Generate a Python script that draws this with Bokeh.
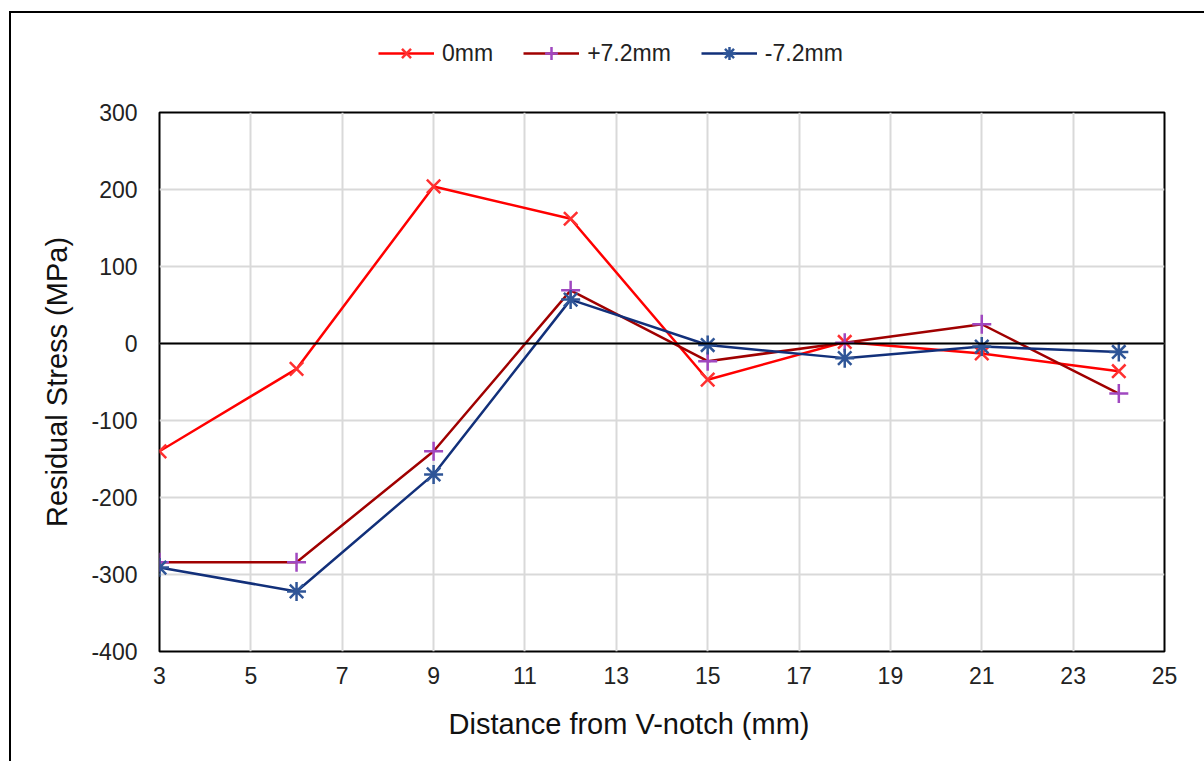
from bokeh.plotting import figure
from bokeh.layouts import column
from bokeh.models import Range1d, FixedTicker, Span, Legend, LegendItem, Title
from bokeh.embed import file_html
from bokeh.resources import INLINE

x_mm = [3, 6, 9, 12, 15, 18, 21, 24]
s_0mm = [-140, -33, 204, 162, -47, 2, -13, -36]
s_p72 = [-284, -284, -140, 69, -23, 1, 25, -65]
s_m72 = [-291, -322, -170, 57, -2, -19, -4, -11]
x_ticks = [3, 5, 7, 9, 11, 13, 15, 17, 19, 21, 23, 25]
y_ticks = [-400, -300, -200, -100, 0, 100, 200, 300]
y_tick_labels = ["-400", "-300", "-200", "-100", "0", "100", "200", "300"]
series_names = ["0mm", "+7.2mm", "-7.2mm"]

FONT = "Liberation Sans"
styles_ = [
    dict(line="#FF0000", marker="x", mcolor="#FF3030"),
    dict(line="#A00000", marker="cross", mcolor="#A048C0"),
    dict(line="#12307A", marker="asterisk", mcolor="#2F5597"),
]
series = [s_0mm, s_p72, s_m72]

# ---- main chart ----
p = figure(width=1194, height=669, output_backend="svg", toolbar_location=None,
           x_range=Range1d(3, 25), y_range=Range1d(-400, 300),
           min_border_left=148, min_border_right=41, min_border_top=19, min_border_bottom=111)
p.background_fill_color = "white"
p.border_fill_color = "white"
p.outline_line_color = "black"
p.outline_line_width = 2

p.xaxis.ticker = FixedTicker(ticks=x_ticks)
p.yaxis.ticker = FixedTicker(ticks=y_ticks)
p.yaxis.major_label_overrides = {t: s for t, s in zip(y_ticks, y_tick_labels)}
for ax in (p.xaxis, p.yaxis):
    ax.major_tick_line_color = None
    ax.minor_tick_line_color = None
    ax.axis_line_color = None
    ax.major_label_text_font = FONT
    ax.major_label_text_font_size = "23px"
    ax.major_label_text_color = "#222222"
    ax.axis_label_text_font = FONT
    ax.axis_label_text_font_size = "29px"
    ax.axis_label_text_font_style = "normal"
    ax.axis_label_text_color = "#111111"
p.xaxis.major_label_standoff = 9
p.yaxis.major_label_standoff = 16
p.yaxis.axis_label = "Residual Stress (MPa)"
p.yaxis.axis_label_standoff = 15

xtitle = Title(text="Distance from V-notch (mm)", align="left", offset=289,
               text_font=FONT, text_font_size="29px", text_font_style="normal",
               text_color="#111111", standoff=38)
p.add_layout(xtitle, "below")

p.xgrid.grid_line_color = "#D9D9D9"
p.ygrid.grid_line_color = "#D9D9D9"
p.xgrid.grid_line_width = 2
p.ygrid.grid_line_width = 2

p.add_layout(Span(location=0, dimension="width", line_color="black", line_width=2))

for ys, st in zip(series, styles_):
    p.line(x_mm, ys, line_color=st["line"], line_width=2.5)
    p.scatter(x_mm, ys, marker=st["marker"], size=19, line_color=st["mcolor"], line_width=2.5)

# ---- legend strip: same series drawn out of view, only their legend shows ----
lg = figure(width=1194, height=80, output_backend="svg", toolbar_location=None,
            x_range=Range1d(0, 1), y_range=Range1d(0, 1),
            min_border=0, x_axis_type=None, y_axis_type=None)
lg.outline_line_color = None
lg.grid.visible = False
items = []
for name, ys, st in zip(series_names, series, styles_):
    r1 = lg.line(x_mm, ys, line_color=st["line"], line_width=2.5)
    r2 = lg.scatter(x_mm, ys, marker=st["marker"], size=19, line_color=st["mcolor"], line_width=2.5)
    items.append(LegendItem(label=name, renderers=[r1, r2]))
legend = Legend(items=items, orientation="horizontal", location=(219, 24))
legend.label_text_font = FONT
legend.label_text_font_size = "23px"
legend.label_text_color = "#222222"
legend.glyph_width = 56
legend.glyph_height = 32
legend.label_standoff = 8
legend.spacing = 30
legend.padding = 0
legend.margin = 0
legend.border_line_color = None
legend.background_fill_alpha = 0
lg.add_layout(legend, "center")

root = column(lg, p, spacing=0,
              styles={"margin-left": "9px", "margin-top": "11px",
                      "border-left": "2px solid black", "border-top": "2px solid black"})

open("out.html", "w").write(file_html(root, INLINE))
